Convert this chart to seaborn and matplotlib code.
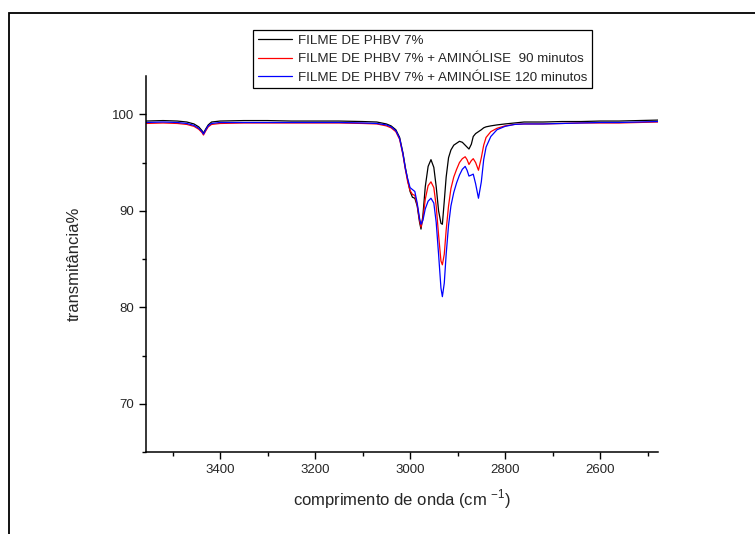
import numpy as np
import pandas as pd
import matplotlib
matplotlib.use("Agg")
import matplotlib.pyplot as plt
import seaborn as sns
from matplotlib.patches import Rectangle
from matplotlib.ticker import MultipleLocator

# wavenumber grid (cm-1)
wavenumber = [3556, 3520, 3490, 3470, 3455, 3445, 3438, 3435, 3430, 3425, 3418, 3400,
              3350, 3300, 3250, 3200, 3150, 3100, 3070, 3050, 3040, 3030, 3022, 3015,
              3010, 3005, 3000, 2995, 2990, 2985, 2980, 2977, 2973, 2968, 2962, 2956,
              2950, 2945, 2940, 2935, 2932, 2928, 2924, 2919, 2914, 2908, 2902, 2896,
              2890, 2884, 2880, 2876, 2871, 2867, 2862, 2856, 2850, 2845, 2840, 2830,
              2817, 2800, 2780, 2760, 2720, 2680, 2640, 2600, 2560, 2520, 2478]

filme = [99.3, 99.35, 99.3, 99.2, 99.0, 98.7, 98.3, 98.05, 98.5, 98.9, 99.2, 99.3,
         99.35, 99.35, 99.3, 99.3, 99.3, 99.25, 99.2, 99.0, 98.8, 98.4, 97.6, 96.0,
         94.5, 93.2, 92.0, 91.4, 91.3, 90.5, 88.8, 88.1, 89.5, 92.5, 94.6, 95.3,
         94.5, 92.5, 90.0, 88.7, 88.6, 91.0, 93.5, 95.5, 96.3, 96.8, 97.0, 97.2,
         97.1, 96.8, 96.6, 96.4, 96.9, 97.7, 98.0, 98.2, 98.4, 98.6, 98.7, 98.8,
         98.9, 99.0, 99.1, 99.2, 99.2, 99.25, 99.25, 99.3, 99.3, 99.35, 99.4]

amin_90 = [99.05, 99.1, 99.05, 98.95, 98.75, 98.45, 98.1, 97.85, 98.3, 98.7, 98.95, 99.05,
           99.1, 99.1, 99.1, 99.1, 99.1, 99.05, 99.0, 98.8, 98.6, 98.2, 97.4, 95.8,
           94.3, 93.0, 92.1, 91.7, 91.6, 90.6, 89.0, 88.3, 89.2, 91.2, 92.6, 93.0,
           92.4, 90.5, 87.5, 84.8, 84.4, 85.5, 88.0, 90.5, 92.3, 93.5, 94.3, 95.0,
           95.4, 95.6, 95.3, 94.8, 95.2, 95.4, 95.0, 94.2, 95.5, 96.8, 97.6, 98.2,
           98.55, 98.8, 98.95, 99.0, 99.0, 99.05, 99.1, 99.1, 99.1, 99.15, 99.2]

amin_120 = [99.15, 99.2, 99.15, 99.05, 98.85, 98.55, 98.2, 97.95, 98.4, 98.8, 99.05, 99.15,
            99.15, 99.15, 99.15, 99.15, 99.15, 99.1, 99.05, 98.9, 98.7, 98.3, 97.5, 95.9,
            94.4, 93.3, 92.4, 92.2, 92.0, 90.8, 89.2, 88.6, 89.0, 90.2, 91.0, 91.3,
            90.8, 88.8, 85.5, 82.0, 81.1, 82.5, 85.5, 88.5, 90.5, 91.9, 92.9, 93.7,
            94.3, 94.6, 94.2, 93.6, 93.7, 93.8, 92.8, 91.3, 93.0, 95.3, 96.6, 97.7,
            98.4, 98.75, 98.95, 99.0, 99.0, 99.05, 99.1, 99.15, 99.15, 99.2, 99.25]

labels = ["FILME DE PHBV 7%",
          "FILME DE PHBV 7% + AMINÓLISE  90 minutos",
          "FILME DE PHBV 7% + AMINÓLISE 120 minutos"]
colors = ["black", "red", "blue"]

df = pd.concat([
    pd.DataFrame({"wn": wavenumber, "T": vals, "amostra": lab})
    for vals, lab in zip([filme, amin_90, amin_120], labels)
])

sns.set_style("ticks")
plt.rcParams["font.family"] = ["Liberation Sans", "DejaVu Sans"]
plt.rcParams["mathtext.fontset"] = "custom"
plt.rcParams["mathtext.rm"] = "Liberation Sans"

fig = plt.figure(figsize=(7.55, 5.34), dpi=100)
ax = fig.add_axes([146 / 755, 1 - 452 / 534, (658 - 146) / 755, (452 - 75.7) / 534])

sns.lineplot(data=df, x="wn", y="T", hue="amostra", palette=colors,
             linewidth=0.9, sort=False, ax=ax, legend=False)

ax.set_xlim(3556, 2478)
ax.set_ylim(65, 104)
ax.xaxis.set_major_locator(MultipleLocator(200))
ax.xaxis.set_minor_locator(MultipleLocator(100))
ax.yaxis.set_major_locator(MultipleLocator(10))
ax.yaxis.set_minor_locator(MultipleLocator(5))
ax.tick_params(which="major", direction="out", length=5, width=1, labelsize=9.5, color="black")
ax.tick_params(which="minor", direction="out", length=3, width=1, color="black")
for s in ["top", "right"]:
    ax.spines[s].set_visible(False)
for s in ["left", "bottom"]:
    ax.spines[s].set_linewidth(1.1)
    ax.spines[s].set_color("black")

ax.set_xlabel(r"comprimento de onda (cm $^{\mathrm{-1}}$)", fontsize=12, labelpad=8)
ax.set_ylabel("transmitância%", fontsize=12, labelpad=22)

handles = [plt.Line2D([], [], color=c, linewidth=0.9) for c in colors]
leg = fig.legend(handles, labels, loc="upper left",
                 bbox_to_anchor=(253 / 755, 1 - 30 / 534), fontsize=9.6,
                 frameon=True, fancybox=False, framealpha=1, edgecolor="black",
                 handlelength=2.6, handletextpad=0.45, labelspacing=0.45,
                 borderpad=0.35, borderaxespad=0)
leg.get_frame().set_linewidth(0.9)

# outer frame (only top and left edges visible)
fig.add_artist(Rectangle((9 / 755, -0.2), 1.2, 1.2 - 13 / 534, transform=fig.transFigure,
                         fill=False, edgecolor="black", linewidth=1.3))

fig.savefig("out.png", dpi=100)
